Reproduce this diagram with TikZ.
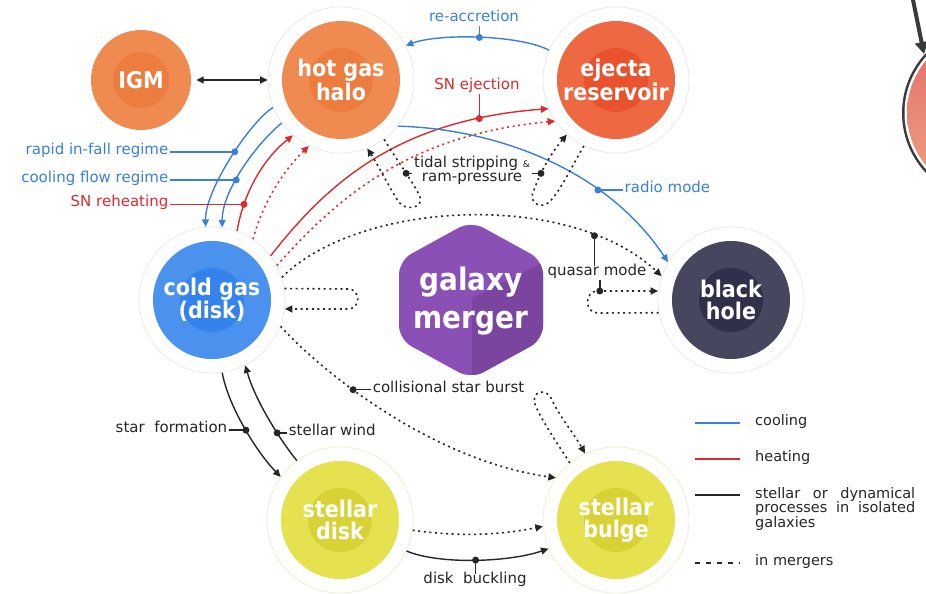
\documentclass[tikz,border=0pt]{standalone}
\usepackage{fontspec}
\setmainfont{DejaVu Sans}
\newfontfamily\blockfont{DejaVu Sans Condensed}
\usetikzlibrary{arrows.meta}

\definecolor{coolblue}{HTML}{3A80D9}
\definecolor{heatred}{HTML}{DD2A2E}
\definecolor{ink}{HTML}{262626}
\definecolor{hotout}{HTML}{EF8B50}
\definecolor{hotin}{HTML}{EC7D3E}
\definecolor{ejout}{HTML}{EE6842}
\definecolor{ejin}{HTML}{E9522C}
\definecolor{coldout}{HTML}{4A92EE}
\definecolor{coldin}{HTML}{3483EC}
\definecolor{bhout}{HTML}{46465E}
\definecolor{bhin}{HTML}{30304A}
\definecolor{starout}{HTML}{E6E24F}
\definecolor{starin}{HTML}{D8D236}
\definecolor{mergebase}{HTML}{8B50B5}
\definecolor{mergeshade}{HTML}{7A459F}
\definecolor{ringgrey}{HTML}{EAEAEA}
\definecolor{ringyellow}{HTML}{EFEFD2}
\definecolor{edgegrey}{HTML}{3A3A3A}
\definecolor{sunred}{HTML}{E06E6A}
\definecolor{sunpink}{HTML}{F0A381}

\tikzset{
  cool/.style={draw=coolblue, line width=1.4pt},
  heat/.style={draw=heatred, line width=1.4pt},
  proc/.style={draw=ink, line width=1.4pt},
  merge/.style={line width=1.6pt, dash pattern=on 2pt off 3.6pt},
  body/.style n args={3}{circle, minimum size=146pt, inner sep=0pt, fill=white,
    draw=#3, line width=0.8pt,
    path picture={\fill[#1] (path picture bounding box.center) circle[radius=59pt];
                  \fill[#2] (path picture bounding box.center) circle[radius=32pt];},
    text=white, align=center, font=\blockfont\bfseries\fontsize{23}{22}\selectfont},
  igmbody/.style={circle, minimum size=110pt, inner sep=0pt,
    path picture={\fill[hotout] (path picture bounding box.center) circle[radius=50pt];
                  \fill[hotin] (path picture bounding box.center) circle[radius=28pt];},
    text=white, font=\blockfont\bfseries\fontsize{23}{22}\selectfont},
  lab/.style={font=\fontsize{15}{15}\selectfont, inner sep=1.5pt,
    text height=0.75em, text depth=0.25em},
  labml/.style={font=\fontsize{15}{14}\selectfont, inner sep=1.5pt, align=center},
  legendtxt/.style={font=\fontsize{14.5}{14.5}\selectfont, inner sep=0pt, text=ink},
  joint/.style={radius=3.5pt},
}

\begin{document}
\begin{tikzpicture}[x=1pt, y=-1pt, >={Triangle[length=7.5pt,width=7pt]}]
\useasboundingbox (0,0) rectangle (926,594);
\fill[white] (0,0) rectangle (926,594);

% partly visible disc at the right edge, with its pointer
\begin{scope}
  \clip (0,0) rectangle (926,594);
  \fill[edgegrey] (989,113) circle[radius=87];
  \fill[white] (989,113) circle[radius=84.5];
  \shade[top color=sunred, bottom color=sunpink] (989,113) circle[radius=82];
  \draw[edgegrey, line width=4pt, -{Triangle[length=12pt,width=13pt]}] (912,-5) -- (924,54);
\end{scope}

% galaxy merger hexagon
\fill[mergebase, rounded corners=14pt] (471,221) -- (543,260.5) -- (543,339.5) -- (471,379) -- (399,339.5) -- (399,260.5) -- cycle;
\begin{scope}
  \clip[rounded corners=14pt] (471,221) -- (543,260.5) -- (543,339.5) -- (471,379) -- (399,339.5) -- (399,260.5) -- cycle;
  \fill[mergeshade] (472,298) -- (560,254) -- (560,400) -- (472,400) -- cycle;
\end{scope}
\node[text=white, align=center, inner sep=0pt, font=\blockfont\bfseries\fontsize{31}{38}\selectfont] (merger) at (471,301) {galaxy\\merger};

% reservoirs
\node[igmbody] (igm) at (141,80) {IGM};
\node[body={hotout}{hotin}{ringgrey}] (hot) at (341,80) {hot gas\\halo};
\node[body={ejout}{ejin}{ringgrey}] (eje) at (616,80) {ejecta\\reservoir};
\node[body={coldout}{coldin}{ringgrey}] (cold) at (212,300) {cold gas\\(disk)};
\node[body={bhout}{bhin}{ringgrey}] (bh) at (731,300) {black\\hole};
\node[body={starout}{starin}{ringyellow}] (sdisk) at (340,520) {stellar\\disk};
\node[body={starout}{starin}{ringyellow}] (bulge) at (616,520) {stellar\\bulge};

\coordinate (lblx) at (170,0);

% IGM exchange
\draw[proc, <->] (igm) -- (hot);

% re-accretion
\draw[cool, ->] (eje.156) .. controls (520,35) and (440,33) .. (hot.28) coordinate[pos=.5] (dRe);
\node[lab, text=coolblue] (lRe) at (474,19) {re-accretion};
\draw[cool] (dRe) -- (dRe |- lRe.south);
\fill[coolblue] (dRe) circle[joint];

% cooling from the hot halo
\draw[cool, ->] (hot.202) .. controls (250,122) and (205,190) .. (cold.95) coordinate[pos=.45] (dRapid);
\node[lab, text=coolblue, anchor=east] (lRapid) at (dRapid -| lblx) {rapid in-fall regime};
\draw[cool] (lRapid.east) -- (dRapid);
\fill[coolblue] (dRapid) circle[joint];

\draw[cool, ->] (hot.216) .. controls (258,142) and (222,190) .. (cold.82) coordinate[pos=.6] (dCool);
\node[lab, text=coolblue, anchor=east] (lCool) at (dCool -| lblx) {cooling flow regime};
\draw[cool] (lCool.east) -- (dCool);
\fill[coolblue] (dCool) circle[joint];

% supernova reheating
\draw[heat, ->] (cold.70) .. controls (243,195) and (262,160) .. (hot.229) coordinate[pos=.25] (dReheat);
\node[lab, text=heatred, anchor=east] (lReheat) at (dReheat -| lblx) {SN reheating};
\draw[heat] (lReheat.east) -- (dReheat);
\fill[heatred] (dReheat) circle[joint];
\draw[heat, merge, ->] (cold.56) .. controls (262,205) and (282,172) .. (hot.244);

% supernova ejection
\draw[heat, ->] (cold.37) .. controls (330,180) and (400,120) .. (eje.203) coordinate[pos=.83] (dEject);
\node[lab, text=heatred] (lEject) at (477,87) {SN ejection};
\draw[heat] (dEject) -- (dEject |- lEject.south);
\fill[heatred] (dEject) circle[joint];
\draw[heat, merge, ->] (cold.28) .. controls (340,195) and (410,135) .. (eje.214);

% radio mode
\draw[cool, ->] (hot.321) .. controls (480,128) and (600,160) .. (bh.149) coordinate[pos=.71] (dRadio);
\node[lab, text=coolblue, anchor=west] (lRadio) at ([xshift=25pt]dRadio) {radio mode};
\draw[cool] (dRadio) -- (lRadio.west);
\fill[coolblue] (dRadio) circle[joint];

% tidal stripping and ram pressure
\draw[proc, merge, ->] (hot.306) .. controls (400,165) and (415,185) .. (420,197) coordinate[pos=.5] (dT1)
   .. controls (424,208) and (405,212) .. (398,201) .. controls (388,185) and (378,165) .. (hot.291);
\draw[proc, merge, ->] (eje.244) .. controls (570,170) and (558,195) .. (548,203)
   .. controls (538,210) and (528,200) .. (534,190) .. controls (540,172) and (552,152) .. (eje.228) coordinate[pos=.3] (dT2);
\node[labml, text=ink] (lTidal) at (472,170) {tidal stripping {\fontsize{9}{9}\selectfont\&}\\ram-pressure};
\draw[proc] (dT1) -- (dT1 -| lTidal.west);
\draw[proc] (dT2) -- (dT2 -| lTidal.east);
\fill[ink] (dT1) circle[joint];
\fill[ink] (dT2) circle[joint];

% quasar mode
\draw[proc, merge, ->] (cold.18) .. controls (360,200) and (570,190) .. (bh.161) coordinate[pos=.8] (dQuasar);
\draw[proc, merge, ->] (bh.190) -- (598,313) .. controls (584,313) and (584,291) .. (598,291) -- (bh.173) coordinate[pos=.03] (dQuasarB);
\node[lab, text=ink] (lQuasar) at (597,273) {quasar mode};
\draw[proc] (dQuasar) -- (dQuasar |- lQuasar.north);
\draw[proc] (dQuasarB) -- (dQuasarB |- lQuasar.south);
\fill[ink] (dQuasar) circle[joint];
\fill[ink] (dQuasarB) circle[joint];

% cold gas brought in by mergers
\draw[proc, merge, ->] (cold.9) -- (348,289) .. controls (361,289) and (361,309) .. (348,309) -- (cold.353);

% collisional star burst
\draw[proc, merge, ->] (cold.339) .. controls (320,370) and (430,460) .. (bulge.145) coordinate[pos=.38] (dBurst);
\node[lab, text=ink, anchor=west] (lBurst) at ([xshift=18pt]dBurst) {collisional star burst};
\draw[proc] (dBurst) -- (lBurst.west);
\fill[ink] (dBurst) circle[joint];
\draw[proc, merge, ->] (bulge.129) .. controls (555,440) and (539,416) .. (535,404)
   .. controls (531,391) and (546,388) .. (551,398) .. controls (559,416) and (573,432) .. (bulge.115);

% star formation and stellar feedback
\draw[proc, ->] (cold.278) .. controls (228,405) and (255,450) .. (sdisk.144) coordinate[pos=.53] (dSF);
\node[lab, text=ink, anchor=east] (lSF) at ([xshift=-17pt]dSF) {star\ \ formation};
\draw[proc] (lSF.east) -- (dSF);
\fill[ink] (dSF) circle[joint];

\draw[proc, ->] (sdisk.126) .. controls (280,440) and (255,400) .. (cold.297) coordinate[pos=.35] (dSW);
\node[lab, text=ink, anchor=west] (lSW) at ([xshift=10pt]dSW) {stellar wind};
\draw[proc] (dSW) -- (lSW.west);
\fill[ink] (dSW) circle[joint];

% disk to bulge
\draw[proc, merge, ->] (sdisk.352) .. controls (460,537) and (500,535) .. (bulge.185);
\draw[proc, ->] (sdisk.335) .. controls (440,565) and (510,562) .. (bulge.203) coordinate[pos=.5] (dDB);
\node[lab, text=ink] (lDB) at (475,581) {disk\ \ buckling};
\draw[proc] (dDB) -- (dDB |- lDB.north);
\fill[ink] (dDB) circle[joint];

% legend
\draw[coolblue, line width=1.6pt] (695,423) -- (740,423);
\node[legendtxt, anchor=west] (lgCool) at (755,421) {cooling};
\draw[heatred, line width=1.6pt] (695,459) -- (740,459);
\node[legendtxt, anchor=west] (lgHeat) at (755,457) {heating};
\draw[ink, line width=1.6pt] (695,495) -- (740,495);
\node[legendtxt, anchor=north west, align=left] (lgProc) at (755,487)
  {\makebox[160pt][s]{stellar or dynamical}\\\makebox[160pt][s]{processes in isolated}\\galaxies};
\draw[ink, line width=1.6pt, dash pattern=on 5pt off 6pt] (695,563) -- (740,563);
\node[legendtxt, anchor=west] (lgMerge) at (755,561) {in mergers};
\end{tikzpicture}
\end{document}
